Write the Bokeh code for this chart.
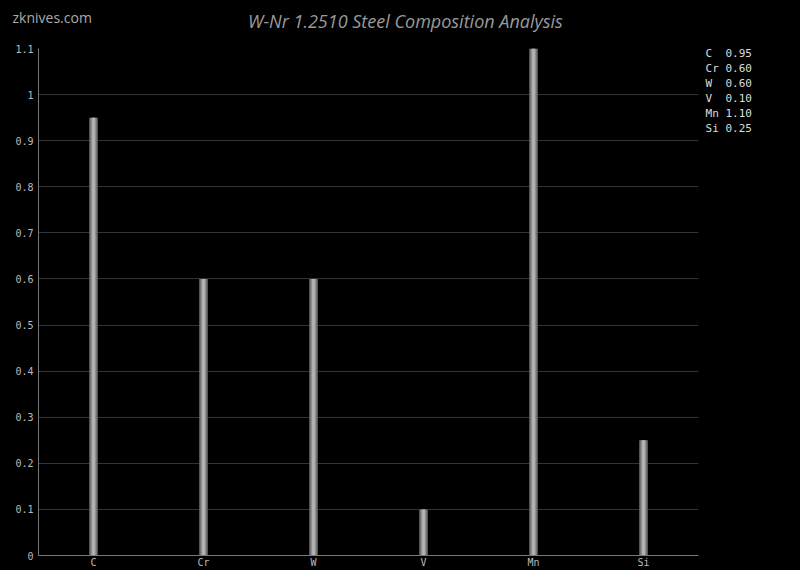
from bokeh.plotting import figure
from bokeh.models import Label, FixedTicker, CustomJSTickFormatter, ColumnDataSource
from bokeh.embed import file_html
from bokeh.resources import INLINE

elements = ["C", "Cr", "W", "V", "Mn", "Si"]
percent = [0.95, 0.60, 0.60, 0.10, 1.10, 0.25]
y_ticks = [0, 0.1, 0.2, 0.3, 0.4, 0.5, 0.6, 0.7, 0.8, 0.9, 1.0, 1.1]
title_text = "W-Nr 1.2510 Steel Composition Analysis"
site_text = "zknives.com"

MONO = "DejaVu Sans Mono"
NBSP = "\u00a0"

p = figure(x_range=elements, y_range=(0, 1.1), width=800, height=570,
           output_backend="svg", toolbar_location=None,
           background_fill_color="black", border_fill_color="black",
           min_border_left=38, min_border_right=102, min_border_top=48,
           min_border_bottom=14)
p.styles = {"background-color": "black"}
p.outline_line_color = None
p.outline_line_alpha = 0
p.outline_line_width = 0

src = ColumnDataSource(dict(x=elements, top=percent))
p.vbar(x="x", top="top", width=0.078, source=src, fill_color="#6a6a6a", line_color=None)
p.vbar(x="x", top="top", width=0.05, source=src, fill_color="#8f8f8f", line_color=None)
p.vbar(x="x", top="top", width=0.025, source=src, fill_color="#b4b4b4", line_color=None)

p.xgrid.visible = False
p.ygrid.grid_line_color = "#333333"

p.yaxis.ticker = FixedTicker(ticks=y_ticks)
p.yaxis.formatter = CustomJSTickFormatter(code="return tick.toFixed(1).replace(/\\.0$/, '');")
for ax in (p.xaxis[0], p.yaxis[0]):
    ax.axis_line_color = "#777777"
    ax.major_tick_line_color = None
    ax.minor_tick_line_color = None
    ax.major_tick_out = 0
    ax.major_tick_in = 0
    ax.minor_tick_out = 0
    ax.major_label_text_color = "#bbbbbb"
    ax.major_label_text_font = MONO
    ax.major_label_text_font_size = "10px"
    ax.major_label_standoff = 5
p.xaxis.major_label_standoff = 1

# texts outside the frame live in side panels, positioned in data units
p.add_layout(Label(x=3.336, y=1.1606, text=title_text, text_font="Open Sans",
                   text_font_style="italic", text_font_size="18px", text_color="#9a9a9a",
                   text_align="center", text_baseline="middle"), "above")
p.add_layout(Label(x=-0.236, y=1.1671, text=site_text, text_font="Open Sans",
                   text_font_size="14px", text_color="#aaaaaa", text_align="left",
                   text_baseline="middle"), "above")

legend_text = "\n".join(f"{el.ljust(2, NBSP)}{NBSP}{v:.2f}" for el, v in zip(elements, percent))
p.add_layout(Label(x=6.064, y=1.104, text=legend_text, text_font=MONO,
                   text_font_size="11px", text_color="#dddddd", text_align="left",
                   text_baseline="top", text_line_height=1.16), "right")

open("out.html", "w").write(file_html(p, INLINE))
